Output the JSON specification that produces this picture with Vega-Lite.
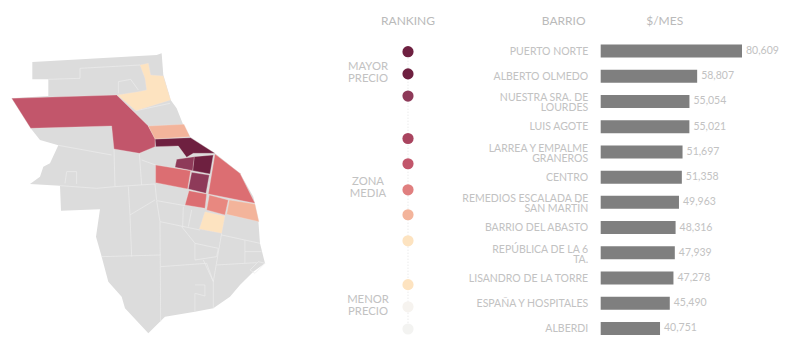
{"$schema":"https://vega.github.io/schema/vega-lite/v6.json","width":800,"height":353,"padding":0,"autosize":{"type":"none"},"background":"white","view":{"stroke":null},
"datasets":{
"barrios":[{"barrio":"PUERTO NORTE","v":80609,"t":"80,609"},{"barrio":"ALBERTO OLMEDO","v":58807,"t":"58,807"},{"barrio":"NUESTRA SRA. DE\nLOURDES","v":55054,"t":"55,054"},{"barrio":"LUIS AGOTE","v":55021,"t":"55,021"},{"barrio":"LARREA Y EMPALME\nGRANEROS","v":51697,"t":"51,697"},{"barrio":"CENTRO","v":51358,"t":"51,358"},{"barrio":"REMEDIOS ESCALADA DE\nSAN MARTÍN","v":49963,"t":"49,963"},{"barrio":"BARRIO DEL ABASTO","v":48316,"t":"48,316"},{"barrio":"REPÚBLICA DE LA 6\nTA.","v":47939,"t":"47,939"},{"barrio":"LISANDRO DE LA TORRE","v":47278,"t":"47,278"},{"barrio":"ESPAÑA Y HOSPITALES","v":45490,"t":"45,490"},{"barrio":"ALBERDI","v":40751,"t":"40,751"}],
"ranking":[{"r":"a","i":0},{"r":"b","i":8},{"r":"c","i":16},{"r":"d","i":31.3},{"r":"e","i":40.4},{"r":"f","i":49.8},{"r":"g","i":58.8},{"r":"h","i":68.2},{"r":"i","i":84},{"r":"j","i":92},{"r":"k","i":100}],
"zonas":[{"z":"MAYOR\nPRECIO","i":7.6},{"z":"ZONA\nMEDIA","i":49.2},{"z":"MENOR\nPRECIO","i":91.8}]
},
"resolve":{"scale":{"x":"independent","y":"independent","color":"independent"}},
"layer":[
{"data":{"values":{"type":"FeatureCollection","features":[{"type":"Feature","properties":{"n":"Rosario"},"geometry":{"type":"Polygon","coordinates":[[[97,66],[470,45],[485,40],[490,105],[512,180],[530,205],[550,255],[570,290],[645,340],[720,400],[760,470],[775,540],[780,610],[795,670],[760,695],[720,735],[690,770],[640,805],[585,815],[495,830],[445,880],[375,805],[365,770],[325,725],[305,650],[288,590],[300,508],[183,512],[180,437],[90,432],[120,410],[130,380],[150,370],[175,316],[120,300],[92,265],[35,175],[145,168],[145,118],[97,118],[97,66]]]}}]},"format":{"type":"json","property":"features"}},
"mark":{"type":"geoshape","fill":"#dcdcdc","stroke":null},
"projection":{"type":"identity","scale":0.3333,"translate":[0,40]}},
{"data":{"values":{"type":"FeatureCollection","features":[{"type":"Feature","properties":{"n":"limites"},"geometry":{"type":"MultiLineString","coordinates":[[[342,327],[345,440]],[[175,316],[335,345]],[[418,340],[425,435]],[[180,437],[290,445],[345,440],[465,432]],[[465,432],[470,480]],[[470,482],[555,497]],[[470,482],[480,545],[600,570]],[[480,545],[482,845]],[[385,440],[390,525]],[[390,525],[465,480]],[[390,525],[395,650]],[[305,650],[482,645]],[[482,680],[620,670],[640,725]],[[610,660],[640,725],[640,805]],[[665,580],[640,725]],[[665,585],[780,610]],[[735,600],[735,670]],[[735,635],[785,635]],[[650,675],[770,668]],[[585,735],[615,735],[615,768],[585,760],[585,815]],[[585,610],[655,625],[650,650],[585,660],[585,610]],[[545,560],[585,610]],[[550,500],[548,560]],[[565,560],[575,510]],[[425,360],[467,375]],[[750,690],[775,665],[795,670],[765,700],[750,690]],[[355,160],[355,125],[392,118],[415,150]],[[240,85],[420,75]],[[240,85],[240,115],[145,118]],[[195,430],[200,395],[230,395],[230,432]],[[408,212],[510,190]]]}}]},"format":{"type":"json","property":"features"}},
"mark":{"type":"geoshape","filled":false,"stroke":"#ececec","strokeWidth":0.7},
"projection":{"type":"identity","scale":0.3333,"translate":[0,40]}},
{"data":{"values":{"type":"FeatureCollection","features":[
{"type":"Feature","properties":{"c":"c1"},"geometry":{"type":"Polygon","coordinates":[[[465,297],[572,293],[645,340],[580,340],[560,352],[535,318],[467,320],[465,297]]]}},
{"type":"Feature","properties":{"c":"c1"},"geometry":{"type":"Polygon","coordinates":[[[582,350],[640,345],[630,402],[578,392],[582,350]]]}},
{"type":"Feature","properties":{"c":"c2"},"geometry":{"type":"Polygon","coordinates":[[[530,358],[583,350],[578,392],[525,382],[530,358]]]}},
{"type":"Feature","properties":{"c":"c2"},"geometry":{"type":"Polygon","coordinates":[[[575,397],[628,405],[618,460],[565,447],[575,397]]]}},
{"type":"Feature","properties":{"c":"c3"},"geometry":{"type":"Polygon","coordinates":[[[35,175],[350,165],[445,258],[465,295],[465,320],[418,340],[342,327],[335,258],[92,265],[35,175]]]}},
{"type":"Feature","properties":{"c":"c4"},"geometry":{"type":"Polygon","coordinates":[[[467,375],[572,392],[563,447],[467,428],[467,375]]]}},
{"type":"Feature","properties":{"c":"c4"},"geometry":{"type":"Polygon","coordinates":[[[645,342],[720,400],[765,490],[625,462],[635,402],[645,342]]]}},
{"type":"Feature","properties":{"c":"c4"},"geometry":{"type":"Polygon","coordinates":[[[567,452],[620,462],[615,505],[555,495],[567,452]]]}},
{"type":"Feature","properties":{"c":"c5"},"geometry":{"type":"Polygon","coordinates":[[[628,465],[685,480],[675,525],[620,510],[628,465]]]}},
{"type":"Feature","properties":{"c":"c6"},"geometry":{"type":"Polygon","coordinates":[[[688,480],[765,492],[777,545],[680,523],[688,480]]]}},
{"type":"Feature","properties":{"c":"c6"},"geometry":{"type":"Polygon","coordinates":[[[445,258],[552,253],[570,290],[465,297],[445,258]]]}},
{"type":"Feature","properties":{"c":"c7"},"geometry":{"type":"Polygon","coordinates":[[[615,515],[675,528],[665,580],[598,567],[615,515]]]}},
{"type":"Feature","properties":{"c":"c7"},"geometry":{"type":"Polygon","coordinates":[[[420,75],[445,70],[452,105],[490,108],[512,180],[408,212],[352,165],[415,155],[440,150],[435,115],[420,75]]]}}
]},"format":{"type":"json","property":"features"}},
"mark":{"type":"geoshape","stroke":"#f1e4e0","strokeWidth":0.3},
"projection":{"type":"identity","scale":0.3333,"translate":[0,40]},
"encoding":{"color":{"field":"properties.c","type":"nominal","legend":null,"scale":{"domain":["c1","c2","c3","c4","c5","c6","c7"],"range":["#6e2040","#8e3a59","#c2566b","#dc6e72","#e88880","#f3b49b","#fde3c0"]}}}},
{"data":{"name":"ranking"},"mark":{"type":"rule","stroke":"#e2e2e2","strokeDash":[1,2],"strokeWidth":1},
"encoding":{"x":{"datum":0,"type":"quantitative","axis":null,"scale":{"domain":[0,1],"range":[408,409]}},"y":{"aggregate":"min","field":"i","type":"quantitative","axis":null,"scale":{"domain":[0,100],"range":[51.7,329]}},"y2":{"aggregate":"max","field":"i"}}},
{"data":{"name":"ranking"},"mark":{"type":"point","filled":true,"size":125,"opacity":1},
"encoding":{"x":{"datum":0,"type":"quantitative","axis":null,"scale":{"domain":[0,1],"range":[408,409]}},"y":{"field":"i","type":"quantitative","axis":null,"scale":{"domain":[0,100],"range":[51.7,329]}},"color":{"field":"r","type":"nominal","legend":null,"scale":{"domain":["a","b","c","d","e","f","g","h","i","j","k"],"range":["#6e2040","#6e2040","#8e3a59","#a9445f","#c2566b","#e07f7f","#f3b49b","#fde3c0","#fde3c0","#f6f3ef","#f3f3f1"]}}}},
{"data":{"name":"zonas"},"mark":{"type":"text","font":"Lato","fontSize":11.3,"fill":"#c2c2c2","lineBreak":"\n","lineHeight":12,"align":"center","baseline":"middle","dx":-40,"dy":-6},
"encoding":{"x":{"datum":0,"type":"quantitative","axis":null,"scale":{"domain":[0,1],"range":[408,409]}},"y":{"field":"i","type":"quantitative","axis":null,"scale":{"domain":[0,100],"range":[51.7,329]}},"text":{"field":"z"}}},
{"data":{"values":[{"h":"RANKING","i":-11.2}]},"mark":{"type":"text","font":"Lato","fontSize":12,"fill":"#bababa","align":"center","baseline":"middle"},
"encoding":{"x":{"datum":0,"type":"quantitative","axis":null,"scale":{"domain":[0,1],"range":[408,409]}},"y":{"field":"i","type":"quantitative","axis":null,"scale":{"domain":[0,100],"range":[51.7,329]}},"text":{"field":"h"}}},
{"data":{"values":[{"h":"BARRIO","i":-11.2}]},"mark":{"type":"text","font":"Lato","fontSize":12,"fill":"#bababa","align":"center","baseline":"middle","dx":-37},
"encoding":{"x":{"datum":11900,"type":"quantitative","axis":null,"scale":{"domain":[11900,80609],"range":[600.7,742]}},"y":{"field":"i","type":"quantitative","axis":null,"scale":{"domain":[0,100],"range":[51.7,329]}},"text":{"field":"h"}}},
{"data":{"values":[{"h":"$/MES","i":-11.2}]},"mark":{"type":"text","font":"Lato","fontSize":12,"fill":"#bababa","align":"center","baseline":"middle","dx":64},
"encoding":{"x":{"datum":11900,"type":"quantitative","axis":null,"scale":{"domain":[11900,80609],"range":[600.7,742]}},"y":{"field":"i","type":"quantitative","axis":null,"scale":{"domain":[0,100],"range":[51.7,329]}},"text":{"field":"h"}}},
{"data":{"name":"barrios"},"mark":{"type":"bar","fill":"#7f7f7f"},
"encoding":{"x":{"field":"v","type":"quantitative","axis":null,"scale":{"domain":[11900,80609],"range":[600.7,742]}},"x2":{"datum":11900},"y":{"field":"barrio","type":"nominal","sort":null,"axis":null,"scale":{"range":[38.4,341.1],"paddingInner":0.484,"paddingOuter":0.242}}}},
{"data":{"name":"barrios"},"mark":{"type":"text","font":"Lato","fontSize":10.5,"fill":"#c2c2c2","align":"left","baseline":"middle","dx":4},
"encoding":{"x":{"field":"v","type":"quantitative","axis":null,"scale":{"domain":[11900,80609],"range":[600.7,742]}},"y":{"field":"barrio","type":"nominal","sort":null,"axis":null,"scale":{"range":[38.4,341.1],"paddingInner":0.484,"paddingOuter":0.242}},"text":{"field":"t"}}},
{"data":{"name":"barrios"},"transform":[{"filter":"indexof(datum.barrio,'\\n')<0"}],"mark":{"type":"text","font":"Lato","fontSize":10.5,"fill":"#c2c2c2","align":"right","baseline":"middle","dx":-12.5,"dy":0.5},
"encoding":{"x":{"datum":11900,"type":"quantitative","axis":null,"scale":{"domain":[11900,80609],"range":[600.7,742]}},"y":{"field":"barrio","type":"nominal","sort":{"field":"v","order":"descending"},"axis":null,"scale":{"domain":["PUERTO NORTE","ALBERTO OLMEDO","NUESTRA SRA. DE\nLOURDES","LUIS AGOTE","LARREA Y EMPALME\nGRANEROS","CENTRO","REMEDIOS ESCALADA DE\nSAN MARTÍN","BARRIO DEL ABASTO","REPÚBLICA DE LA 6\nTA.","LISANDRO DE LA TORRE","ESPAÑA Y HOSPITALES","ALBERDI"],"range":[38.4,341.1],"paddingInner":0.484,"paddingOuter":0.242}},"text":{"field":"barrio"}}},
{"data":{"name":"barrios"},"transform":[{"filter":"indexof(datum.barrio,'\\n')>=0"}],"mark":{"type":"text","font":"Lato","fontSize":10.5,"fill":"#c2c2c2","align":"right","baseline":"middle","dx":-12.5,"dy":-3,"lineBreak":"\n","lineHeight":10},
"encoding":{"x":{"datum":11900,"type":"quantitative","axis":null,"scale":{"domain":[11900,80609],"range":[600.7,742]}},"y":{"field":"barrio","type":"nominal","axis":null,"scale":{"domain":["PUERTO NORTE","ALBERTO OLMEDO","NUESTRA SRA. DE\nLOURDES","LUIS AGOTE","LARREA Y EMPALME\nGRANEROS","CENTRO","REMEDIOS ESCALADA DE\nSAN MARTÍN","BARRIO DEL ABASTO","REPÚBLICA DE LA 6\nTA.","LISANDRO DE LA TORRE","ESPAÑA Y HOSPITALES","ALBERDI"],"range":[38.4,341.1],"paddingInner":0.484,"paddingOuter":0.242}},"text":{"field":"barrio"}}}
]}
